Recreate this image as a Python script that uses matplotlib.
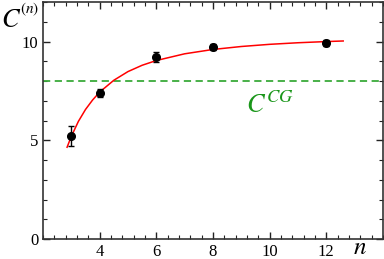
import matplotlib
matplotlib.use('Agg')
import matplotlib.pyplot as plt
from matplotlib.ticker import MultipleLocator

plt.rcParams['font.family'] = 'Liberation Serif'
plt.rcParams['mathtext.fontset'] = 'stix'

# measured points
n_vals = [3, 4, 6, 8, 12]
c_vals = [5.2, 7.4, 9.2, 9.72, 9.95]
c_err = [0.5, 0.2, 0.25, 0.15, 0.15]

# fitted curve
curve_n = [2.85, 3.0, 3.25, 3.5, 3.75, 4.0, 4.5, 5.0, 5.5, 6.0, 7.0, 8.0, 9.0, 10.0, 11.0, 12.0, 12.6]
curve_c = [4.65, 5.20, 5.96, 6.56, 7.04, 7.44, 8.04, 8.48, 8.80, 9.04, 9.38, 9.60, 9.75, 9.86, 9.94, 10.00, 10.03]

c_cg = 8.0

fig = plt.figure(figsize=(3.84, 2.59), dpi=100)
ax = fig.add_axes([0.112, 0.077, 0.885, 0.915])

ax.axhline(c_cg, color='#3aaa3a', lw=1.3, ls=(0, (4, 2.5)))
ax.plot(curve_n, curve_c, color='red', lw=1.1)
ax.errorbar(n_vals, c_vals, yerr=c_err, fmt='o', color='black', ms=5.5,
            capsize=2.5, elinewidth=1.0, capthick=1.0)

ax.set_xlim(2, 14)
ax.set_ylim(0, 12)
ax.set_xticks([4, 6, 8, 10, 12])
ax.set_yticks([0, 5, 10])
ax.xaxis.set_minor_locator(MultipleLocator(0.4))
ax.yaxis.set_minor_locator(MultipleLocator(1))
ax.tick_params(which='both', direction='in', top=True, right=True, labelsize=12, color='#222222')
ax.tick_params(which='major', length=5, width=1)
ax.tick_params(which='minor', length=3, width=0.8)
for s in ax.spines.values():
    s.set_linewidth(1.2)
    s.set_color('#333333')

ax.text(246 / 384, 1 - 113 / 259, r'$C^{CG}$', transform=fig.transFigure,
        color='#1a961a', fontsize=19, va='baseline')
fig.text(0.002, 1 - 27 / 259, r'$C$', fontsize=19, va='baseline', ha='left')
fig.text(20 / 384, 1 - 1 / 259, r'$(n)$', fontsize=11, va='top', ha='left')
fig.text(353 / 384, 0.0, r'$n$', fontsize=18, va='bottom', ha='left')

fig.savefig('out.png', dpi=100)
